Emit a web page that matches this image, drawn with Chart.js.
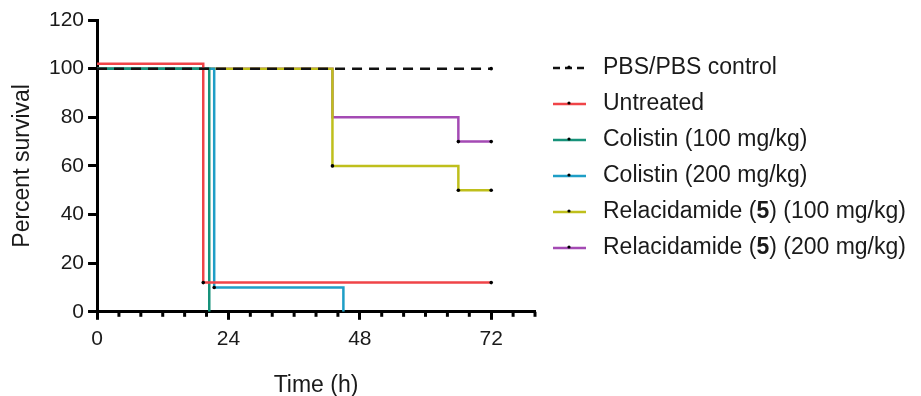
<!DOCTYPE html>
<html>
<head>
<meta charset="utf-8">
<script src="https://cdn.jsdelivr.net/npm/chart.js@4"></script>
<style>
  body { margin: 0; background: #fff; }
  #wrap { width: 921px; height: 396px; }
</style>
</head>
<body>
<div id="wrap"><canvas id="survivalChart"></canvas></div>
<script>
const ctx = document.getElementById('survivalChart');

//Prepare data (time in h, percent survival)
var seriesNames = ['PBS/PBS control', 'Untreated', 'Colistin (100 mg/kg)', 'Colistin (200 mg/kg)',
    'Relacidamide (**5**) (100 mg/kg)', 'Relacidamide (**5**) (200 mg/kg)'];
var pbsTime = [0, 72];
var pbsSurv = [100, 100];
var untreatedTime = [0, 19.4, 72];
var untreatedSurv = [102, 12, 12];
var col100Time = [0, 20.5];
var col100Surv = [100, 0];
var col200Time = [0, 21.4, 45];
var col200Surv = [100, 10, 0];
var rel100Time = [0, 43, 66, 72];
var rel100Surv = [100, 60, 50, 50];
var rel200Time = [0, 43, 66, 72];
var rel200Surv = [100, 80, 70, 70];
var yTicks = [0, 20, 40, 60, 80, 100, 120];
var xLabelTicks = [0, 24, 48, 72];

var colors = ['#111111', '#f04448', '#17927a', '#1e9ec6', '#bfbf1c', '#a44ab4'];
var font = '"Liberation Sans", Arial, sans-serif';

function pts(t, s) {
    return t.map(function (x, i) { return {x: x, y: s[i]}; });
}

// dots: which points get the small black censor mark
function makeSet(i, t, s, dots, dash) {
    return {
        label: seriesNames[i],
        data: pts(t, s),
        borderColor: colors[i],
        borderWidth: 2.5,
        borderDash: dash || [],
        stepped: 'before',
        fill: false,
        pointRadius: dots.map(function (d) { return d ? 1.8 : 0; }),
        pointBackgroundColor: '#000',
        pointBorderWidth: 0
    };
}

//Legend drawn by hand so the "5" can be bold
const legendPlugin = {
    id: 'richLegend',
    afterDraw: function (chart) {
        var c = chart.ctx;
        chart.data.datasets.forEach(function (ds, i) {
            var y = 68 + i * 36;
            c.save();
            c.strokeStyle = ds.borderColor;
            c.lineWidth = 2.5;
            c.setLineDash(ds.borderDash.length ? [7, 5] : []);
            c.beginPath();
            c.moveTo(553, y);
            c.lineTo(586, y);
            c.stroke();
            c.setLineDash([]);
            c.fillStyle = '#000';
            c.beginPath();
            c.arc(569, y - 1, 1.6, 0, Math.PI * 2);
            c.fill();
            var x = 603;
            c.fillStyle = '#1a1a1a';
            c.textBaseline = 'middle';
            ds.label.split('**').forEach(function (part, k) {
                c.font = (k % 2 ? 'bold ' : '') + '23px ' + font;
                c.fillText(part, x, y);
                x += c.measureText(part).width;
            });
            c.restore();
        });
    }
};

//Short minor ticks on the time axis
const minorTicks = {
    id: 'minorTicks',
    afterDraw: function (chart) {
        var sx = chart.scales.x;
        var c = chart.ctx;
        c.save();
        c.strokeStyle = '#000';
        c.lineWidth = 3;
        sx.ticks.forEach(function (t) {
            if (xLabelTicks.indexOf(t.value) < 0) {
                var px = sx.getPixelForValue(t.value);
                c.beginPath();
                c.moveTo(px, sx.top);
                c.lineTo(px, sx.top + 5);
                c.stroke();
            }
        });
        c.restore();
    }
};

//Create chart
new Chart(ctx, {
    type: 'line',
    data: {
        datasets: [
            makeSet(0, pbsTime, pbsSurv, [0, 1], [10, 7]),
            makeSet(1, untreatedTime, untreatedSurv, [0, 1, 1]),
            makeSet(2, col100Time, col100Surv, [0, 0]),
            makeSet(3, col200Time, col200Surv, [0, 1, 0]),
            makeSet(4, rel100Time, rel100Surv, [0, 1, 1, 1]),
            makeSet(5, rel200Time, rel200Surv, [0, 0, 1, 1])
        ]
    },
    options: {
        responsive: true,
        maintainAspectRatio: false,
        animation: false,
        layout: {padding: {left: 11, right: 386, top: 20, bottom: -1}},
        plugins: {
            legend: {display: false},
            tooltip: {enabled: false}
        },
        scales: {
            x: {
                type: 'linear',
                min: 0,
                max: 80,
                border: {color: '#000', width: 3},
                grid: {
                    drawOnChartArea: false,
                    tickLength: 8,
                    tickColor: '#000',
                    tickWidth: function (c) { return xLabelTicks.indexOf(c.tick.value) >= 0 ? 3 : 0; }
                },
                ticks: {
                    stepSize: 4,
                    autoSkip: false,
                    maxRotation: 0,
                    padding: 7,
                    color: '#1a1a1a',
                    font: {family: font, size: 21},
                    callback: function (v) { return xLabelTicks.indexOf(v) >= 0 ? v : ''; }
                },
                title: {
                    display: true,
                    text: 'Time (h)',
                    color: '#1a1a1a',
                    font: {family: font, size: 23, lineHeight: 1},
                    padding: {top: 15, bottom: 0}
                }
            },
            y: {
                min: 0,
                max: 120,
                border: {color: '#000', width: 3},
                grid: {drawOnChartArea: false, tickLength: 9, tickWidth: 3, tickColor: '#000'},
                afterBuildTicks: function (s) { s.ticks = yTicks.map(function (v) { return {value: v}; }); },
                ticks: {
                    color: '#1a1a1a',
                    font: {family: font, size: 21},
                    padding: 4
                },
                title: {
                    display: true,
                    text: 'Percent survival',
                    color: '#1a1a1a',
                    font: {family: font, size: 23, lineHeight: 1},
                    padding: {top: 0, bottom: 11}
                }
            }
        }
    },
    plugins: [legendPlugin, minorTicks]
});
</script>
</body>
</html>
